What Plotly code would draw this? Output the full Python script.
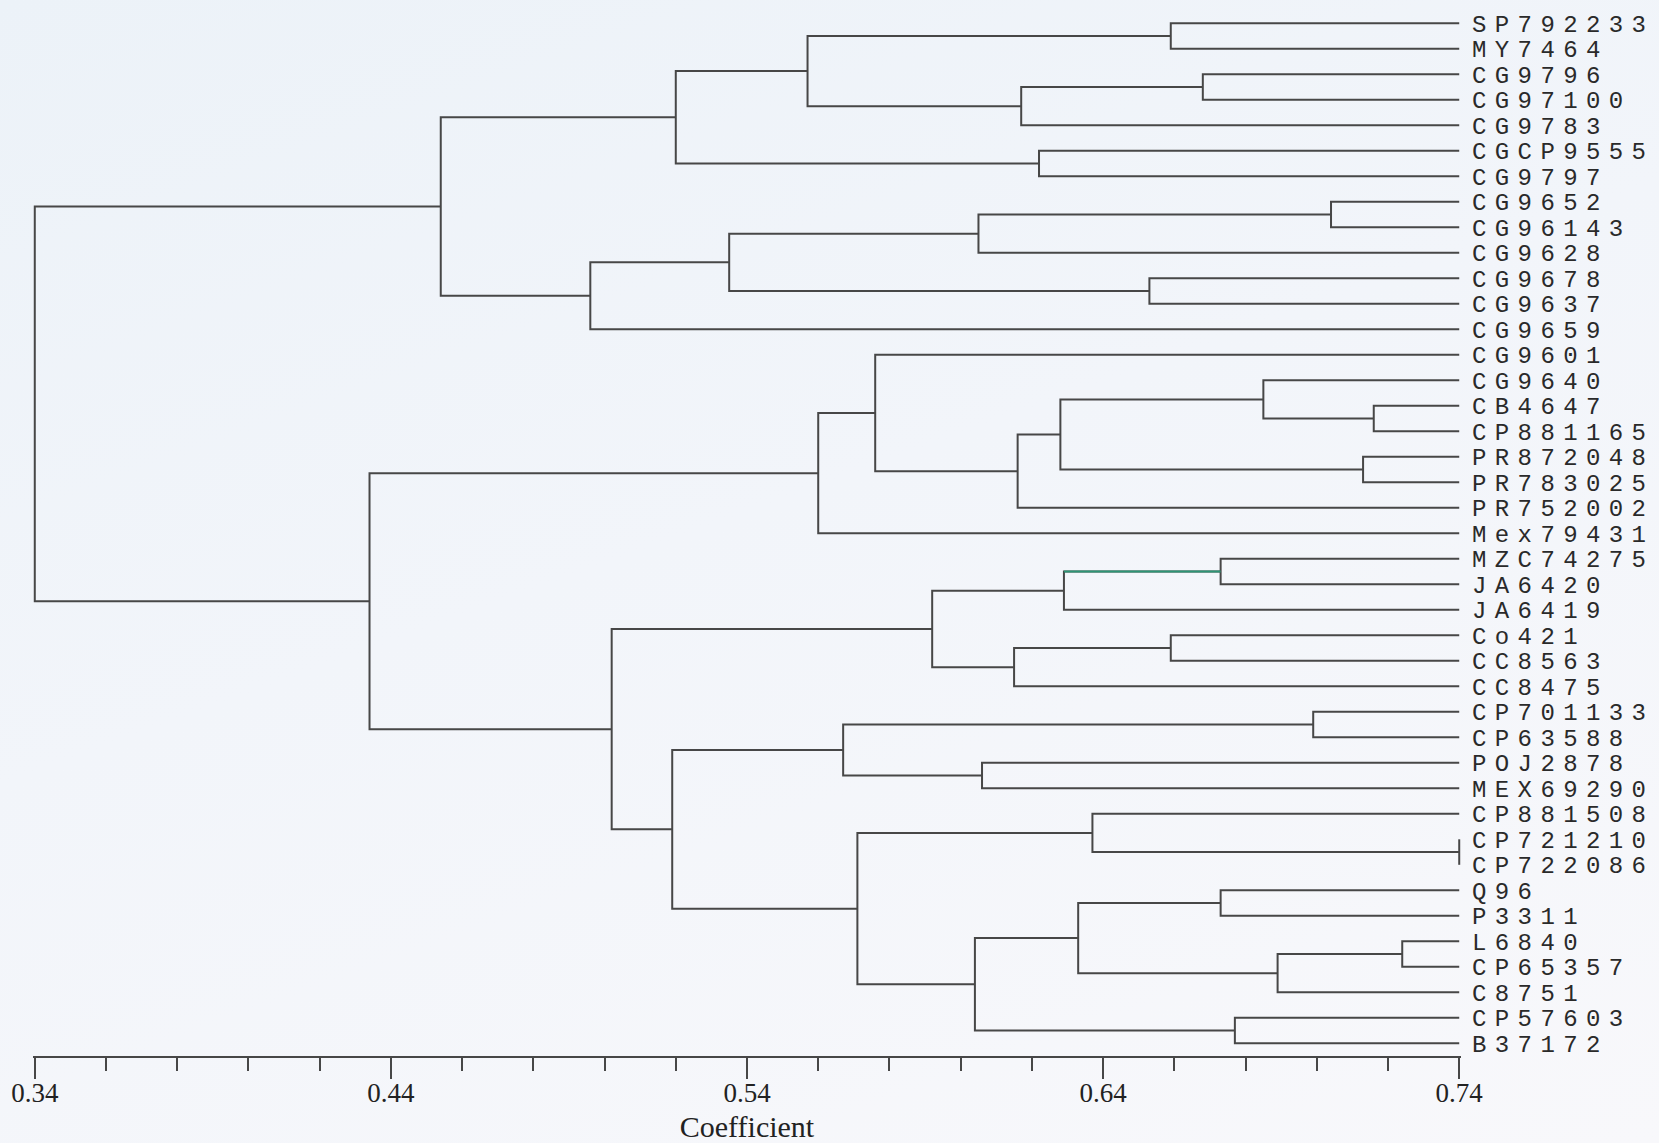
import plotly.graph_objects as go

# ---------------- data ----------------
leaf_names = [
    "SP792233", "MY7464", "CG9796", "CG97100", "CG9783", "CGCP9555", "CG9797",
    "CG9652", "CG96143", "CG9628", "CG9678", "CG9637", "CG9659", "CG9601",
    "CG9640", "CB4647", "CP881165", "PR872048", "PR783025", "PR752002",
    "Mex79431", "MZC74275", "JA6420", "JA6419", "Co421", "CC8563", "CC8475",
    "CP701133", "CP63588", "POJ2878", "MEX69290", "CP881508", "CP721210",
    "CP722086", "Q96", "P3311", "L6840", "CP65357", "C8751", "CP57603", "B37172",
]

# linkage: merge k creates cluster id len(leaf_names)+k
merge_left = [0, 2, 42, 41, 5, 44, 7, 47, 10, 48, 50, 46,
              15, 14, 17, 54, 56, 13, 58,
              21, 60, 24, 62, 61, 27, 29, 65, 32, 31, 34, 36, 71, 70, 39, 73, 69, 67, 64, 59, 52]
merge_right = [1, 3, 4, 43, 6, 45, 8, 9, 11, 49, 12, 51,
               16, 53, 18, 55, 19, 57, 20,
               22, 23, 25, 26, 63, 28, 30, 66, 33, 68, 35, 37, 38, 72, 40, 74, 75, 76, 77, 78, 79]
merge_height = [0.659, 0.668, 0.617, 0.557, 0.622, 0.520, 0.704, 0.605, 0.653, 0.535, 0.496, 0.454,
                 0.716, 0.685, 0.713, 0.628, 0.616, 0.576, 0.560,
                 0.673, 0.629, 0.659, 0.615, 0.592, 0.699, 0.606, 0.567, 0.740, 0.637, 0.673,
                 0.724, 0.689, 0.633, 0.677, 0.604, 0.571, 0.519, 0.502, 0.434, 0.340]
highlight_merge = 20  # its upper branch is drawn green in the original

tick_values = [0.34, 0.44, 0.54, 0.64, 0.74]
tick_labels = ["0.34", "0.44", "0.54", "0.64", "0.74"]
x_min, x_max = 0.34, 0.74

# ---------------- build dendrogram segments ----------------
n = len(leaf_names)
ypos = {i: i for i in range(n)}
hpos = {i: x_max for i in range(n)}
xs, ys, gx, gy = [], [], [], []
for k, (a, b, h) in enumerate(zip(merge_left, merge_right, merge_height)):
    ya, yb = ypos[a], ypos[b]
    xs += [hpos[a], h, h, hpos[b], None]
    ys += [ya, ya, yb, yb, None]
    if k == highlight_merge:
        gx += [hpos[a], h]
        gy += [ya, ya]
    node = n + k
    ypos[node] = (ya + yb) / 2
    hpos[node] = h

line_col = "#474747"
fig = go.Figure()
fig.add_trace(go.Scatter(x=xs, y=ys, mode="lines",
                         line=dict(color=line_col, width=2), hoverinfo="skip",
                         showlegend=False))
fig.add_trace(go.Scatter(x=gx, y=gy, mode="lines",
                         line=dict(color="#2e9475", width=2), hoverinfo="skip",
                         showlegend=False))

serif = "Liberation Serif, Times New Roman, serif"
fig.update_layout(
    width=1659, height=1143,
    margin=dict(l=33, r=198, t=0, b=87),
    paper_bgcolor="rgba(0,0,0,0)", plot_bgcolor="rgba(0,0,0,0)",
    showlegend=False,
    xaxis=dict(
        range=[x_min - 0.0005, x_max + 0.0005],
        tickvals=tick_values, ticktext=tick_labels,
        ticks="outside", ticklen=21, tickwidth=2, tickcolor=line_col,
        ticklabelstandoff=-9,
        minor=dict(dtick=0.02, tick0=x_min, ticks="outside", ticklen=13,
                   tickwidth=2, tickcolor=line_col, showgrid=False),
        showline=True, linecolor=line_col, linewidth=2,
        showgrid=False, zeroline=False,
        tickfont=dict(family=serif, size=27, color="#222"),
        title=dict(text="Coefficient", standoff=10,
                   font=dict(family=serif, size=30, color="#222")),
    ),
    yaxis=dict(
        range=[n - 1 + 0.498, -0.914],
        tickvals=list(range(n)), ticktext=leaf_names,
        side="right", ticks="", ticklabelstandoff=10,
        showgrid=False, zeroline=False, showline=False,
        tickfont=dict(family="Liberation Mono, Courier New, monospace", size=24, color="#2a2a2a"),
    ),
)

post = ("var s=document.createElement('style');"
        "s.textContent='html,body{margin:0;background:linear-gradient(160deg,#ecf2f8 0%,#f2f5fa 45%,#f8f8fb 100%);}"
        " .ytick text{letter-spacing:8.4px;}';"
        "document.head.appendChild(s);")
fig.write_html("out.html", config={"displayModeBar": False}, post_script=post)
